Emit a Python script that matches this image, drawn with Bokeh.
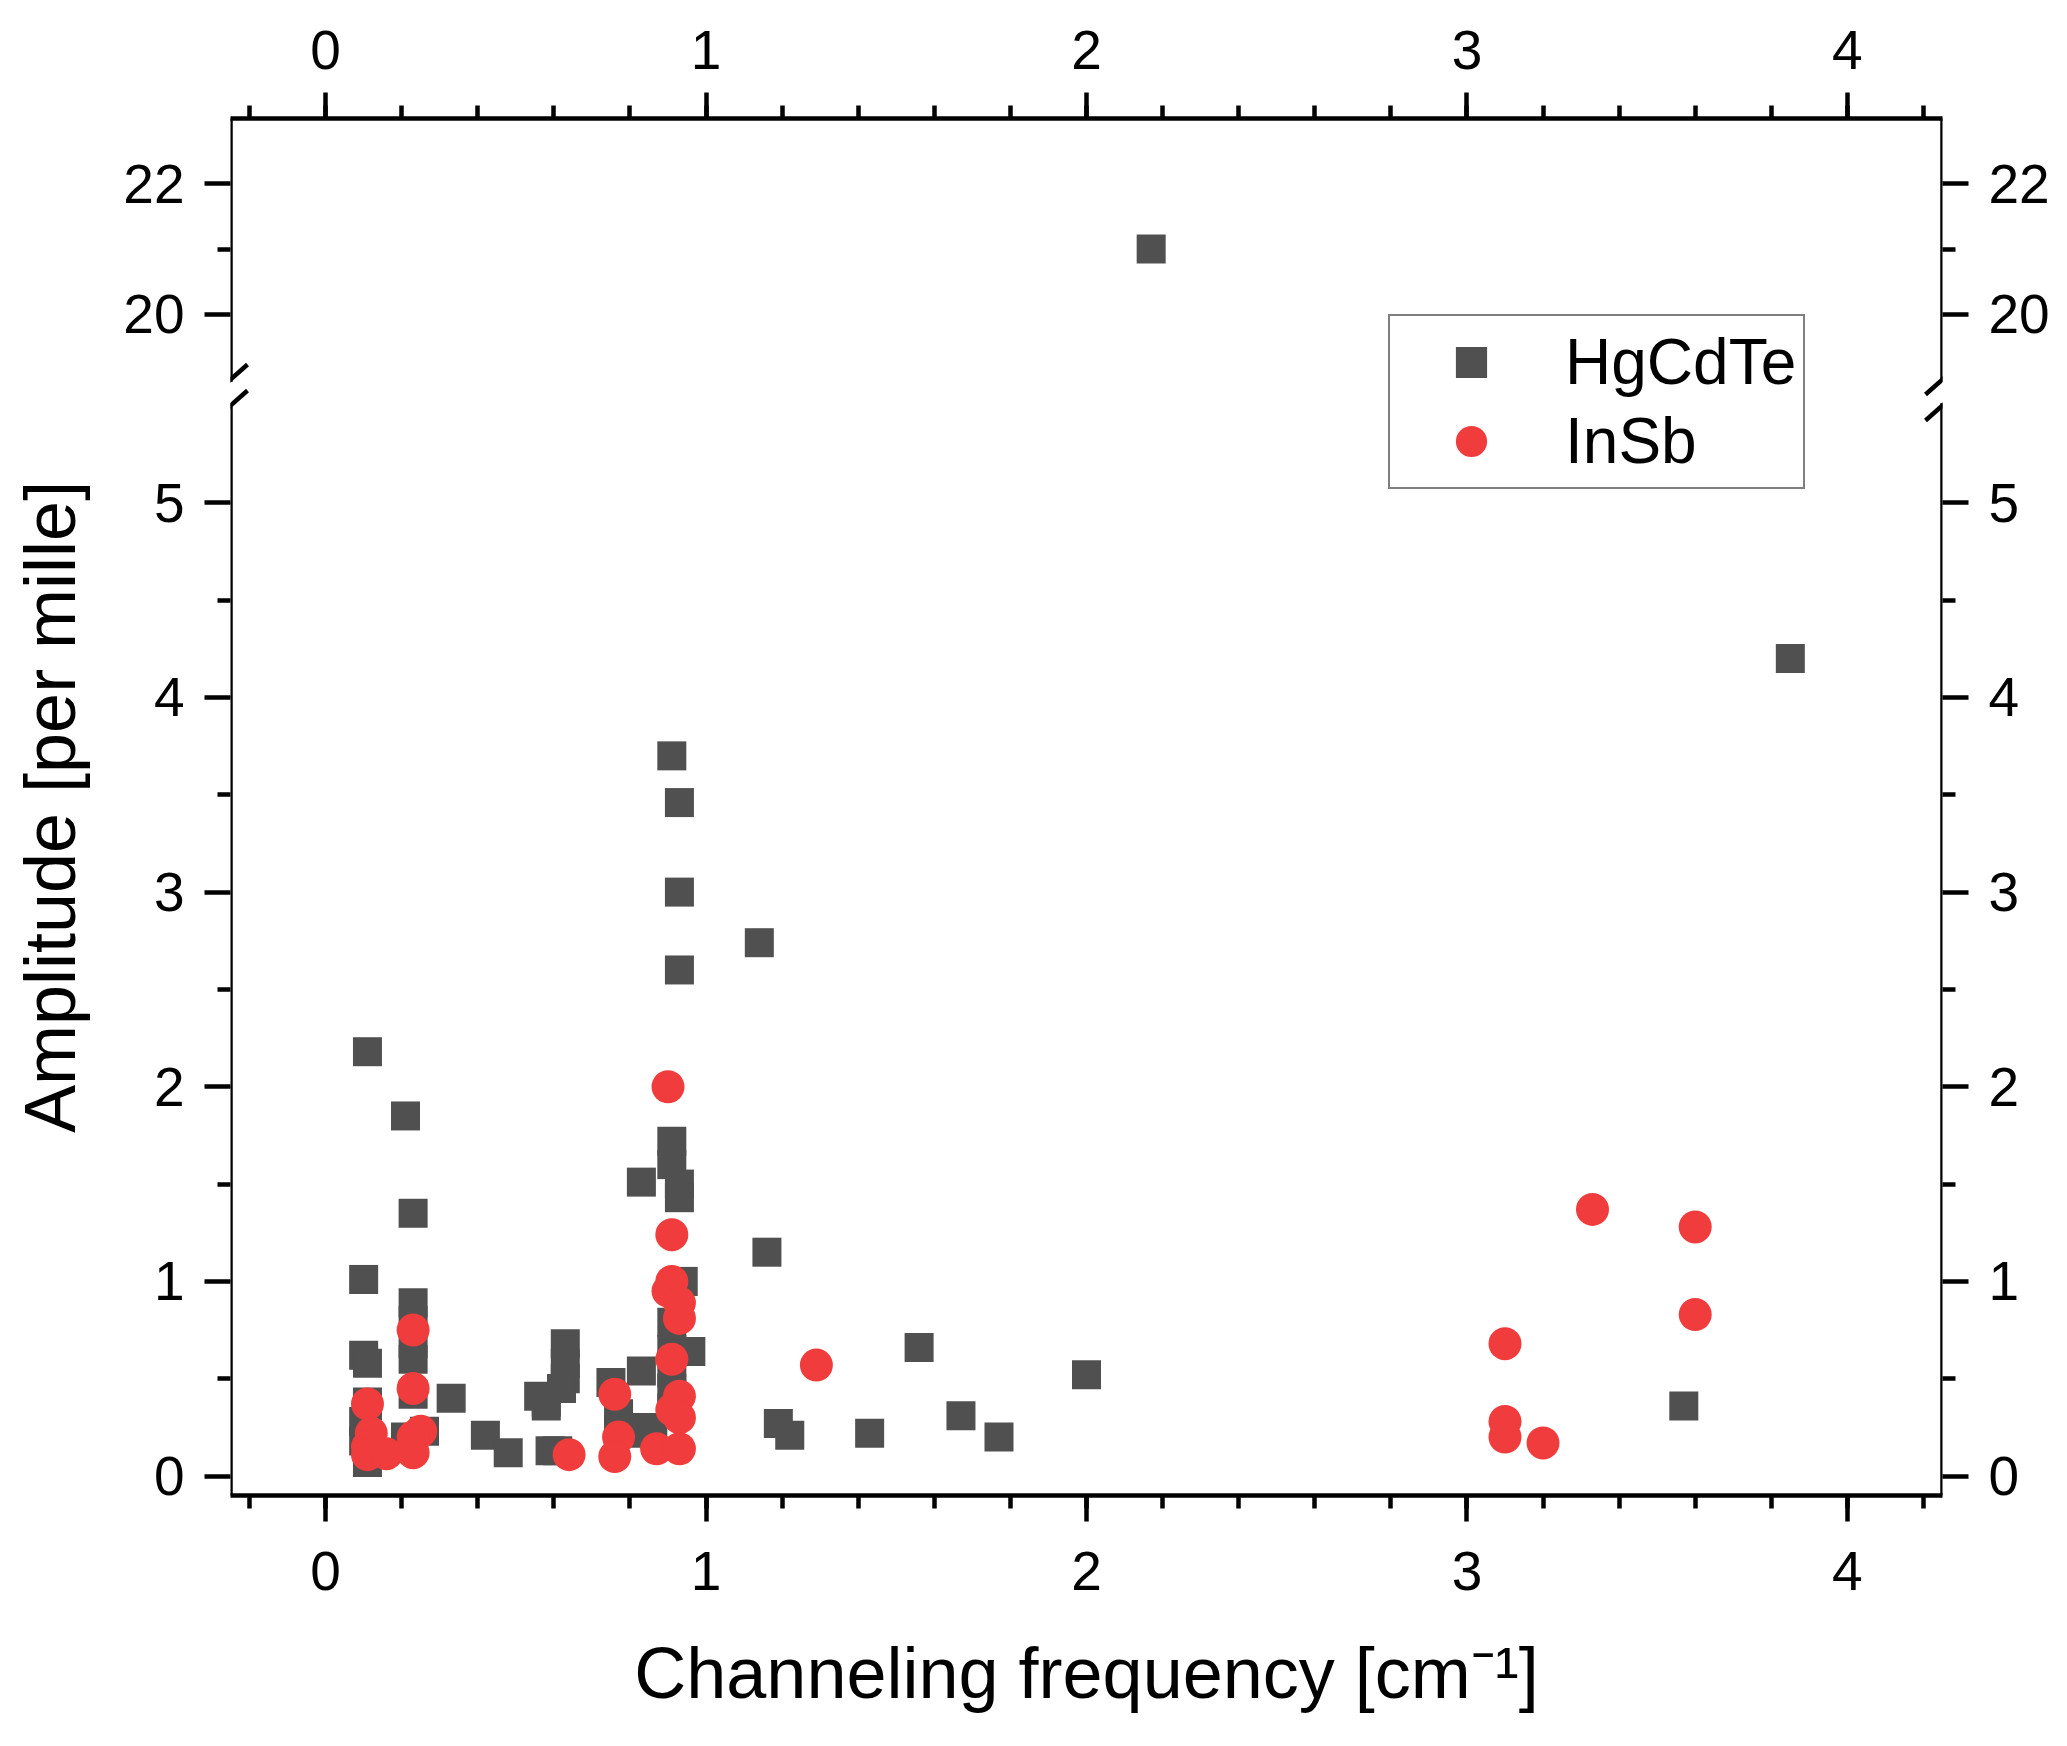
from bokeh.embed import file_html
from bokeh.models import (Arrow, CustomJSTickFormatter, FixedTicker, Legend,
                          LegendItem, LinearAxis, Range1d, SingleIntervalTicker)
from bokeh.plotting import figure
from bokeh.resources import INLINE

# data (channeling frequency in cm-1, amplitude in per mille)
hgcdte_x = [2.17, 3.85, 0.91, 0.93, 0.93, 0.93, 1.14, 0.11, 0.21, 0.23,
            0.83, 0.91, 0.91, 0.93, 0.93, 1.16, 0.10, 0.94, 0.23, 0.23,
            0.23, 0.23, 0.10, 0.11, 0.11, 0.11, 0.10, 0.10, 0.12, 0.11,
            0.23, 0.26, 0.21, 0.33, 0.42, 0.48, 0.56, 0.58, 0.63, 0.63,
            0.63, 0.62, 0.58, 0.59, 0.61, 0.75, 0.77, 0.77, 0.81, 0.83,
            0.84, 0.86, 0.91, 0.91, 0.91, 0.96, 0.91, 0.91, 1.19, 1.22,
            1.43, 1.56, 1.67, 1.77, 2.00, 3.57]
hgcdte_y = [21.0, 4.20, 3.70, 3.46, 3.00, 2.60, 2.74, 2.18, 1.85, 1.35,
            1.51, 1.72, 1.60, 1.50, 1.43, 1.15, 1.01, 1.00, 0.89, 0.80,
            0.68, 0.60, 0.62, 0.58, 0.38, 0.36, 0.28, 0.18, 0.12, 0.07,
            0.42, 0.23, 0.20, 0.40, 0.21, 0.12, 0.41, 0.36, 0.68, 0.58,
            0.50, 0.45, 0.38, 0.13, 0.13, 0.48, 0.32, 0.24, 0.22, 0.54,
            0.25, 0.24, 0.79, 0.65, 0.53, 0.64, 0.45, 0.35, 0.27, 0.21,
            0.22, 0.66, 0.31, 0.20, 0.52, 0.36]

insb_x = [0.90, 0.91, 0.91, 0.90, 0.93, 0.93, 0.91, 0.93, 0.91, 0.93,
          0.87, 0.93, 0.76, 0.77, 0.76, 0.64, 1.29, 0.23, 0.23, 0.11,
          0.12, 0.11, 0.11, 0.16, 0.23, 0.25, 0.23, 3.10, 3.10, 3.10,
          3.20, 3.33, 3.60, 3.60]
insb_y = [2.00, 1.24, 1.00, 0.95, 0.89, 0.81, 0.60, 0.41, 0.34, 0.30,
          0.14, 0.14, 0.42, 0.20, 0.10, 0.11, 0.57, 0.75, 0.45, 0.37,
          0.22, 0.15, 0.11, 0.115, 0.12, 0.23, 0.20, 0.68, 0.28, 0.20,
          0.17, 1.37, 1.28, 0.83]

low_ticks = [0, 1, 2, 3, 4, 5]
low_minor = [0.5, 1.5, 2.5, 3.5, 4.5]
high_ticks = [20, 22]
high_minor = [21]

FONT = "Liberation Sans"
GREY = "#505050"
RED = "#F03C3C"
LW = 4.5

# broken y axis: lower segment, gap, upper segment (pixels of the frame)
FRAME_W, FRAME_H = 1712, 1377
LOW_PX, GAP_PX = 1090, 26
HIGH_PX = FRAME_H - LOW_PX - GAP_PX
X_LO, X_HI = -0.25, 4.25
LOW = (-0.1, 5.5)
HIGH = (19, 23)

kx = FRAME_W / (X_HI - X_LO)
k_low = LOW_PX / (LOW[1] - LOW[0])
k_high = HIGH_PX / (HIGH[1] - HIGH[0])
y_end = LOW[0] + FRAME_H / k_low


def to_low(v):
    # position of an upper-segment value in the main (lower) y range
    return y_end - (HIGH[1] - v) * k_high / k_low


p = figure(
    frame_width=FRAME_W, frame_height=FRAME_H,
    x_range=Range1d(X_LO, X_HI),
    y_range=Range1d(LOW[0], y_end),
    output_backend="svg", toolbar_location=None,
    min_border_left=230, min_border_right=120,
    min_border_top=118, min_border_bottom=244,
)
p.extra_y_ranges = {"top": Range1d(HIGH[1] - FRAME_H / k_high, HIGH[1])}
p.grid.visible = False
p.outline_line_color = None


def style(ax):
    ax.axis_line_width = LW
    ax.axis_line_color = "black"
    ax.major_tick_line_width = LW
    ax.minor_tick_line_width = LW
    ax.major_tick_line_color = "black"
    ax.minor_tick_line_color = "black"
    ax.major_tick_in = 0
    ax.major_tick_out = 26
    ax.minor_tick_in = 0
    ax.minor_tick_out = 13
    ax.major_label_text_font = FONT
    ax.major_label_text_font_size = "55px"
    ax.major_label_text_color = "black"
    ax.major_label_standoff = 20


xb = p.xaxis[0]
xb.ticker = SingleIntervalTicker(interval=1, num_minor_ticks=5)
style(xb)
xb.major_label_standoff = 30
xb.axis_label = "Channeling frequency [cm⁻¹]"
xb.axis_label_text_font = FONT
xb.axis_label_text_font_size = "72px"
xb.axis_label_text_font_style = "normal"
xb.axis_label_text_color = "black"
xb.axis_label_standoff = 40

xt = LinearAxis(ticker=SingleIntervalTicker(interval=1, num_minor_ticks=5))
style(xt)
xt.major_label_standoff = 24
p.add_layout(xt, "above")

# one axis per side carries both segments; labels of the upper part are mapped back
y_ticker = FixedTicker(ticks=low_ticks + [to_low(t) for t in high_ticks],
                       minor_ticks=low_minor + [to_low(t) for t in high_minor])
y_format = CustomJSTickFormatter(
    args=dict(lim=LOW[1], top=HIGH[1], yend=y_end, ratio=k_low / k_high),
    code="""
        if (tick > lim) { return String(Math.round(top - (yend - tick) * ratio)); }
        return String(Math.round(tick));
    """,
)

yl = p.yaxis[0]
yl.ticker = y_ticker
yl.formatter = y_format
yl.bounds = (LOW[0], to_low(max(high_ticks)) + 0.01)
style(yl)
yl.axis_line_color = None
yl.axis_label = "Amplitude [per mille]"
yl.axis_label_text_font = FONT
yl.axis_label_text_font_size = "72px"
yl.axis_label_text_font_style = "normal"
yl.axis_label_text_color = "black"
yl.axis_label_standoff = 30

yr = LinearAxis(ticker=y_ticker, formatter=y_format)
style(yr)
yr.axis_line_color = None
p.add_layout(yr, "right")

# vertical axis lines with the gap, and the "//" break marks
for xc in (X_LO, X_HI):
    p.add_layout(Arrow(end=None, line_width=LW, line_cap="square",
                       x_start=xc, x_end=xc, y_start=LOW[0], y_end=LOW[1]))
    p.add_layout(Arrow(end=None, line_width=LW, line_cap="square", y_range_name="top",
                       x_start=xc, x_end=xc, y_start=HIGH[0], y_end=HIGH[1]))
    p.add_layout(Arrow(end=None, line_width=LW,
                       x_start=xc - 17 / kx, x_end=xc + 17 / kx,
                       y_start=LOW[1] - 15 / k_low, y_end=LOW[1] + 15 / k_low))
    p.add_layout(Arrow(end=None, line_width=LW, y_range_name="top",
                       x_start=xc - 17 / kx, x_end=xc + 17 / kx,
                       y_start=HIGH[0] - 15 / k_high, y_end=HIGH[0] + 15 / k_high))

# split HgCdTe into the two segments
lo_x = [x for x, y in zip(hgcdte_x, hgcdte_y) if y <= LOW[1]]
lo_y = [y for y in hgcdte_y if y <= LOW[1]]
hi_x = [x for x, y in zip(hgcdte_x, hgcdte_y) if y >= HIGH[0]]
hi_y = [y for y in hgcdte_y if y >= HIGH[0]]

r_sq = p.scatter(lo_x, lo_y, marker="square", size=29,
                 fill_color=GREY, line_color=None)
p.scatter(hi_x, hi_y, marker="square", size=29, y_range_name="top",
          fill_color=GREY, line_color=None)
r_ci = p.scatter(insb_x, insb_y, marker="circle", size=33,
                 fill_color=RED, line_color=None)

legend = Legend(
    items=[LegendItem(label="HgCdTe", renderers=[r_sq]),
           LegendItem(label="InSb", renderers=[r_ci])],
    location=(1158, 1006), margin=0, padding=7, spacing=1,
    glyph_width=148, glyph_height=78, label_height=78, label_standoff=20,
    label_text_font=FONT, label_text_font_size="64px", label_text_color="black",
    border_line_color="black", border_line_width=2.2,
)
p.add_layout(legend)

open("out.html", "w").write(file_html(p, INLINE))
